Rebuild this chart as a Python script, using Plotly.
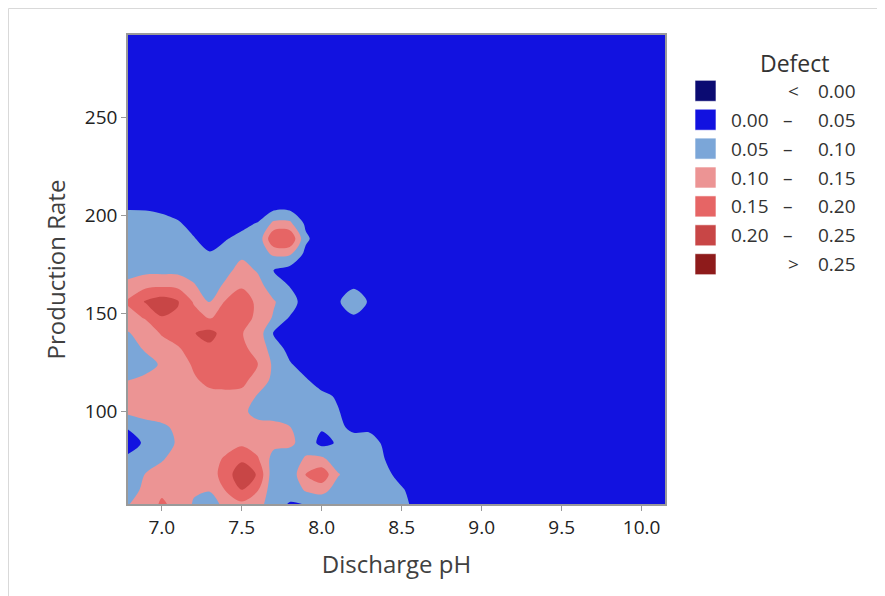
import plotly.graph_objects as go

# ---- data ----
discharge_ph = [6.78, 6.9, 7.0, 7.1, 7.2, 7.3, 7.4, 7.5, 7.6, 7.7, 7.8, 7.9,
                8.0, 8.1, 8.2, 8.3, 8.4, 8.5, 8.6, 8.7, 9.0, 10.16]
production_rate = [52, 60, 68, 76, 84, 92, 100, 108, 116, 124, 132, 140,
                   148, 156, 164, 172, 180, 188, 196, 204, 212, 250, 293]

defect_r052 = [0.098, 0.12, 0.16, 0.135, 0.095, 0.08, 0.11, 0.13, 0.12, 0.065, 0.045, 0.045, 0.045, 0.06, 0.065, 0.065, 0.06, 0.055, 0.045, 0.02, 0.01, 0.01]
defect_r060 = [0.08, 0.11, 0.14, 0.13, 0.105, 0.102, 0.152, 0.199, 0.152, 0.065, 0.065, 0.105, 0.12, 0.075, 0.07, 0.065, 0.06, 0.055, 0.03, 0.01, 0.01, 0.01]
defect_r068 = [0.075, 0.102, 0.12, 0.125, 0.125, 0.125, 0.175, 0.235, 0.195, 0.066, 0.06, 0.152, 0.185, 0.105, 0.07, 0.065, 0.06, 0.035, 0.01, 0.01, 0.01, 0.01]
defect_r076 = [0.06, 0.08, 0.095, 0.12, 0.125, 0.135, 0.155, 0.19, 0.155, 0.08, 0.075, 0.105, 0.11, 0.07, 0.065, 0.06, 0.049, 0.03, 0.01, 0.01, 0.01, 0.01]
defect_r084 = [0.02, 0.06, 0.08, 0.105, 0.12, 0.125, 0.135, 0.14, 0.125, 0.115, 0.11, 0.08, 0.035, 0.055, 0.06, 0.06, 0.045, 0.02, 0.01, 0.01, 0.01, 0.01]
defect_r092 = [0.052, 0.08, 0.09, 0.11, 0.125, 0.13, 0.135, 0.13, 0.115, 0.11, 0.102, 0.07, 0.055, 0.055, 0.045, 0.045, 0.03, 0.01, 0.01, 0.01, 0.01, 0.01]
defect_r100 = [0.11, 0.12, 0.125, 0.13, 0.13, 0.13, 0.13, 0.11, 0.085, 0.085, 0.08, 0.075, 0.065, 0.053, 0.03, 0.01, 0.01, 0.01, 0.01, 0.01, 0.01, 0.01]
defect_r108 = [0.12, 0.125, 0.13, 0.13, 0.135, 0.14, 0.14, 0.14, 0.095, 0.075, 0.07, 0.07, 0.06, 0.045, 0.02, 0.01, 0.01, 0.01, 0.01, 0.01, 0.01, 0.01]
defect_r116 = [0.099, 0.11, 0.12, 0.13, 0.145, 0.16, 0.165, 0.16, 0.135, 0.085, 0.065, 0.055, 0.03, 0.01, 0.01, 0.01, 0.01, 0.01, 0.01, 0.01, 0.01, 0.01]
defect_r124 = [0.075, 0.085, 0.105, 0.13, 0.155, 0.17, 0.175, 0.17, 0.152, 0.09, 0.055, 0.03, 0.01, 0.01, 0.01, 0.01, 0.01, 0.01, 0.01, 0.01, 0.01, 0.01]
defect_r132 = [0.08, 0.105, 0.125, 0.145, 0.17, 0.19, 0.175, 0.16, 0.135, 0.075, 0.035, 0.01, 0.01, 0.01, 0.01, 0.01, 0.01, 0.01, 0.01, 0.01, 0.01, 0.01]
defect_r140 = [0.095, 0.12, 0.155, 0.17, 0.198, 0.215, 0.18, 0.152, 0.13, 0.045, 0.02, 0.01, 0.01, 0.01, 0.02, 0.01, 0.01, 0.01, 0.01, 0.01, 0.01, 0.01]
defect_r148 = [0.13, 0.155, 0.198, 0.19, 0.17, 0.145, 0.17, 0.18, 0.135, 0.095, 0.048, 0.03, 0.01, 0.02, 0.04, 0.02, 0.01, 0.01, 0.01, 0.01, 0.01, 0.01]
defect_r156 = [0.155, 0.205, 0.225, 0.205, 0.145, 0.095, 0.155, 0.175, 0.14, 0.105, 0.065, 0.035, 0.01, 0.04, 0.098, 0.04, 0.01, 0.01, 0.01, 0.01, 0.01, 0.01]
defect_r164 = [0.11, 0.14, 0.145, 0.14, 0.105, 0.075, 0.11, 0.145, 0.12, 0.07, 0.049, 0.03, 0.01, 0.02, 0.04, 0.02, 0.01, 0.01, 0.01, 0.01, 0.01, 0.01]
defect_r172 = [0.085, 0.085, 0.085, 0.085, 0.08, 0.065, 0.085, 0.12, 0.095, 0.048, 0.03, 0.01, 0.01, 0.01, 0.01, 0.01, 0.01, 0.01, 0.01, 0.01, 0.01, 0.01]
defect_r180 = [0.08, 0.08, 0.08, 0.08, 0.07, 0.055, 0.065, 0.09, 0.08, 0.105, 0.105, 0.035, 0.01, 0.01, 0.01, 0.01, 0.01, 0.01, 0.01, 0.01, 0.01, 0.01]
defect_r188 = [0.08, 0.08, 0.075, 0.065, 0.053, 0.03, 0.048, 0.06, 0.06, 0.199, 0.199, 0.06, 0.02, 0.01, 0.01, 0.01, 0.01, 0.01, 0.01, 0.01, 0.01, 0.01]
defect_r196 = [0.075, 0.07, 0.065, 0.055, 0.035, 0.02, 0.03, 0.04, 0.052, 0.11, 0.11, 0.04, 0.02, 0.01, 0.01, 0.01, 0.01, 0.01, 0.01, 0.01, 0.01, 0.01]
defect_r204 = [0.045, 0.045, 0.04, 0.03, 0.02, 0.01, 0.01, 0.01, 0.02, 0.035, 0.035, 0.02, 0.01, 0.01, 0.01, 0.01, 0.01, 0.01, 0.01, 0.01, 0.01, 0.01]
defect_r212 = [0.03, 0.03, 0.025, 0.02, 0.01, 0.01, 0.01, 0.01, 0.01, 0.01, 0.01, 0.01, 0.01, 0.01, 0.01, 0.01, 0.01, 0.01, 0.01, 0.01, 0.01, 0.01]
defect_r250 = [0.01] * 22
defect_r293 = [0.01] * 22

defect_rows = [defect_r052, defect_r060, defect_r068, defect_r076, defect_r084,
               defect_r092, defect_r100, defect_r108, defect_r116, defect_r124,
               defect_r132, defect_r140, defect_r148, defect_r156, defect_r164,
               defect_r172, defect_r180, defect_r188, defect_r196, defect_r204,
               defect_r212, defect_r250, defect_r293]

x_ticks = [7.0, 7.5, 8.0, 8.5, 9.0, 9.5, 10.0]
y_ticks = [100, 150, 200, 250]

band_colors = ["#0B0B72", "#1212E0", "#7BA6D8", "#EC9494", "#E66565", "#C84646", "#8E1B1B"]
legend_low = ["", "0.00", "0.05", "0.10", "0.15", "0.20", ""]
legend_sep = ["<", "–", "–", "–", "–", "–", ">"]
legend_high = ["0.00", "0.05", "0.10", "0.15", "0.20", "0.25", "0.25"]

FONT = "Open Sans"
TXT = "#333333"

colorscale = [[i / 6, c] for i, c in enumerate(band_colors)]

fig = go.Figure()
fig.add_trace(go.Contour(
    x=discharge_ph, y=production_rate, z=defect_rows,
    colorscale=colorscale, showscale=False,
    contours=dict(start=0.0, end=0.25, size=0.05, coloring="fill"),
    line=dict(width=0, smoothing=0.9),
    hoverinfo="skip",
))

# page offset (body margin) and plot-area geometry in figure pixels
OFF = 8
L, R, T, B = 128 - OFF, 665 - OFF, 35 - OFF, 504 - OFF
W, H = 885, 596


def px2paper(px, py):
    """reference-page pixel -> paper coordinates"""
    fx, fy = px - OFF, py - OFF
    return (fx - L) / (R - L), (B - fy) / (B - T)


shapes = []
annotations = []

# outer light border (figure edge)
x0, y0 = px2paper(8.5, 8.5)
x1, y1 = px2paper(900, 610)
shapes.append(dict(type="rect", xref="paper", yref="paper", x0=x0, y0=y0, x1=x1, y1=y1,
                   line=dict(color="#D9D9D9", width=1), fillcolor="rgba(0,0,0,0)", layer="below"))

# legend
tx, ty = px2paper(794, 63)
annotations.append(dict(text="Defect", x=tx, y=ty, xref="paper", yref="paper",
                        showarrow=False, xanchor="center", yanchor="middle",
                        font=dict(family=FONT, size=23, color=TXT)))
row_y0 = 90.8
row_dy = 28.9
for i, col in enumerate(band_colors):
    cy = row_y0 + i * row_dy
    sx0, sy0 = px2paper(695, cy - 10.5)
    sx1, sy1 = px2paper(716, cy + 10.5)
    shapes.append(dict(type="rect", xref="paper", yref="paper", x0=sx0, y0=sy0, x1=sx1, y1=sy1,
                       line=dict(color="rgba(255,255,255,0.6)", width=1), fillcolor=col))
    if legend_low[i]:
        ax, ay = px2paper(771, cy)
        annotations.append(dict(text=legend_low[i], x=ax, y=ay, xref="paper", yref="paper",
                                showarrow=False, xanchor="right", yanchor="middle",
                                font=dict(family=FONT, size=19, color=TXT)))
        sxp, syp = px2paper(788, cy)
    else:
        sxp, syp = px2paper(793, cy)
    annotations.append(dict(text=legend_sep[i], x=sxp, y=syp, xref="paper", yref="paper",
                            showarrow=False, xanchor="center", yanchor="middle",
                            font=dict(family=FONT, size=19, color=TXT)))
    hx, hy = px2paper(858, cy)
    annotations.append(dict(text=legend_high[i], x=hx, y=hy, xref="paper", yref="paper",
                            showarrow=False, xanchor="right", yanchor="middle",
                            font=dict(family=FONT, size=19, color=TXT)))

axis_common = dict(showline=True, mirror=True, linecolor="#9A9A9A", linewidth=1.5,
                   ticks="outside", ticklen=5, tickcolor="#9A9A9A", tickwidth=1,
                   showgrid=False, zeroline=False,
                   tickfont=dict(family=FONT, size=19, color="#222222"))

fig.update_layout(
    width=W, height=H,
    margin=dict(l=L, r=W - R, t=T, b=H - B),
    paper_bgcolor="white", plot_bgcolor="white",
    showlegend=False,
    xaxis=dict(range=[6.789, 10.146], tickvals=x_ticks, ticktext=[f"{v:.1f}" for v in x_ticks],
               title=dict(text="Discharge pH", standoff=18,
                          font=dict(family=FONT, size=24, color="#404040")),
               **axis_common),
    yaxis=dict(range=[53.0, 291.8], tickvals=y_ticks,
               title=dict(text="Production Rate", standoff=12,
                          font=dict(family=FONT, size=24, color="#404040")),
               **axis_common),
    shapes=shapes,
    annotations=annotations,
)

fig.write_html("out.html")
